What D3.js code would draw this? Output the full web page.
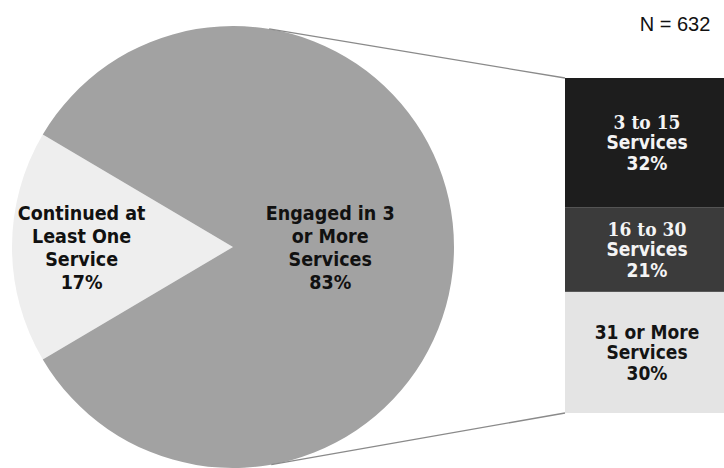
<!DOCTYPE html>
<html>
<head>
<meta charset="utf-8">
<script src="https://cdn.jsdelivr.net/npm/d3@7"></script>
<style>
  html, body { margin: 0; padding: 0; background: #ffffff; }
  svg { display: block; }
</style>
</head>
<body>
<svg id="chart" width="724" height="468"></svg>
<script>
// ---- data ----
const pieCategories = ["Continued at Least One Service", "Engaged in 3 or More Services"];
const pieValues = [17, 83];
const pieLabelLines = [
  ["Continued at", "Least One", "Service", "17%"],
  ["Engaged in 3", "or More", "Services", "83%"]
];
const barCategories = ["3 to 15 Services", "16 to 30 Services", "31 or More Services"];
const barValues = [32, 21, 30];
const barLabelLines = [
  ["3 to 15", "Services", "32%"],
  ["16 to 30", "Services", "21%"],
  ["31 or More", "Services", "30%"]
];
const totalLabel = "N = 632";

// ---- style / layout ----
const pieColors = ["#eeeeee", "#a2a2a2"];
const barColors = ["#1d1d1d", "#3b3b3b", "#e4e4e4"];
const barTextColors = ["#f4f4f4", "#f4f4f4", "#141414"];
const sansBold = "'DejaVu Sans Condensed', 'DejaVu Sans', sans-serif";
const serifBold = "'DejaVu Serif Condensed', 'DejaVu Serif', serif";

const svg = d3.select("#chart");
const cx = 233, cy = 247, R = 221;

// ---- pie ----
const frac0 = pieValues[0] / d3.sum(pieValues);
const start = (1.5 - frac0) * Math.PI; // white slice centered at 9 o'clock
const pie = d3.pie().sort(null).value(d => d)
  .startAngle(start).endAngle(start + 2 * Math.PI);
const arcs = pie(pieValues);
const arc = d3.arc().innerRadius(0).outerRadius(R);

const gPie = svg.append("g").attr("transform", `translate(${cx},${cy})`);
gPie.selectAll("path").data(arcs).enter().append("path")
  .attr("d", arc)
  .attr("fill", (d, i) => pieColors[i]);

const labelRadius = [0.685, 0.44];
arcs.forEach((a, i) => {
  const mid = (a.startAngle + a.endAngle) / 2;
  const lx = Math.sin(mid) * R * labelRadius[i];
  const ly = -Math.cos(mid) * R * labelRadius[i];
  const lines = pieLabelLines[i];
  const lh = 23;
  const t = gPie.append("text")
    .attr("text-anchor", "middle")
    .attr("font-family", sansBold)
    .attr("font-weight", "bold")
    .attr("font-size", 19.5)
    .attr("fill", "#111");
  lines.forEach((s, k) => {
    t.append("tspan")
      .attr("x", lx)
      .attr("y", ly + (k - (lines.length - 1) / 2) * lh)
      .attr("dy", "0.36em")
      .text(s);
  });
});

// ---- bar (stacked) ----
const barX0 = 565, barX1 = 732;
const y = d3.scaleLinear().domain([0, d3.sum(barValues)]).range([78, 413]);
let acc = 0;
const stacks = barValues.map((v, i) => {
  const s = { i, y0: acc, y1: acc + v };
  acc += v;
  return s;
});
const gBar = svg.append("g");
gBar.selectAll("rect").data(stacks).enter().append("rect")
  .attr("x", barX0)
  .attr("width", barX1 - barX0)
  .attr("y", d => y(d.y0))
  .attr("height", d => y(d.y1) - y(d.y0))
  .attr("fill", d => barColors[d.i]);

const barCx = 647;
stacks.forEach(s => {
  const lines = barLabelLines[s.i];
  const mcy = (y(s.y0) + y(s.y1)) / 2;
  const lh = 20.5;
  lines.forEach((str, k) => {
    const serif = s.i < 2 && k === 0;
    svg.append("text")
      .attr("x", barCx)
      .attr("y", mcy + (k - (lines.length - 1) / 2) * lh)
      .attr("dy", "0.36em")
      .attr("text-anchor", "middle")
      .attr("font-family", serif ? serifBold : sansBold)
      .attr("font-weight", "bold")
      .attr("font-size", 19)
      .attr("fill", barTextColors[s.i])
      .text(str);
  });
});

// ---- connector lines (tangents from bar corners to pie) ----
function tangentPoint(px, py, upper) {
  const dx = px - cx, dy = py - cy;
  const d = Math.hypot(dx, dy);
  const theta = Math.atan2(dy, dx);
  const a = Math.acos(R / d);
  const ang = upper ? theta - a : theta + a;
  return [cx + R * Math.cos(ang), cy + R * Math.sin(ang)];
}
const corners = [[barX0, y(0), true], [barX0, y(d3.sum(barValues)), false]];
corners.forEach(([px, py, up]) => {
  const [tx, ty] = tangentPoint(px, py, up);
  svg.append("line")
    .attr("x1", tx).attr("y1", ty)
    .attr("x2", px).attr("y2", py)
    .attr("stroke", "#8a8a8a")
    .attr("stroke-width", 1.3);
});

// ---- N label ----
svg.append("text")
  .attr("x", 675)
  .attr("y", 31)
  .attr("text-anchor", "middle")
  .attr("font-family", "'Liberation Sans', Arial, sans-serif")
  .attr("font-size", 20)
  .attr("fill", "#111")
  .text(totalLabel);
</script>
</body>
</html>
